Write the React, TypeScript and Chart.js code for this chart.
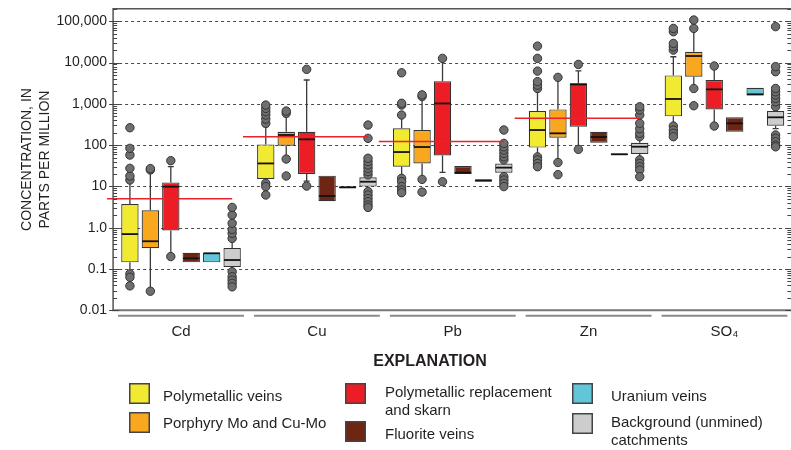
import React, { useEffect, useRef } from 'react';
import { Chart, registerables } from 'chart.js';
Chart.register(...registerables);

const categories = ['Cd', 'Cu', 'Pb', 'Zn', 'SO₄'];
const seriesNames = [
  'Polymetallic veins',
  'Porphyry Mo and Cu-Mo',
  'Polymetallic replacement\nand skarn',
  'Fluorite veins',
  'Uranium veins',
  'Background (unmined)\ncatchments',
];
const seriesColors = ['#F1EA30', '#F8A71E', '#EC1D25', '#6E2513', '#62C6D8', '#CDCDCD'];
const yTickLabels = ['0.01', '0.1', '1.0', '10', '100', '1,000', '10,000', '100,000'];
const yAxisTitle = ['CONCENTRATION, IN', 'PARTS PER MILLION'];
const referenceLevels = [5, 160, 123, 445, null];

// [lower whisker, Q1, median, Q3, upper whisker] per category
const polymetallicVeins = [
  [0.085, 0.145, 0.7, 3.75, 13],
  [13, 15.1, 36, 104, 280],
  [18, 30, 68, 255, 520],
  [55, 87, 232, 670, 2150],
  [300, 497, 1310, 4880, 13800],
];
const porphyry = [
  [0.031, 0.317, 0.47, 2.64, 24],
  [50, 97, 176, 211, 490],
  [16.5, 36, 90, 232, 1450],
  [40, 151, 193, 733, 4100],
  [2450, 4540, 14400, 18300, 62000],
];
const replacement = [
  [0.22, 0.86, 9.86, 12.5, 30],
  [13.5, 20, 138, 211, 3770],
  [21.9, 56, 1020, 3540, 11500],
  [85, 280, 2950, 3130, 6300],
  [310, 733, 2240, 3770, 7700],
];
const fluorite = [
  [0.145, 0.145, 0.181, 0.248, 0.248],
  [4.4, 4.4, 5.85, 18.2, 18.2],
  [20, 20, 21.5, 31, 31],
  [114, 114, 157, 211, 211],
  [211, 211, 337, 471, 471],
];
const uranium = [
  [0.145, 0.145, 0.24, 0.248, 0.248],
  [9.0, 9.0, 9.5, 9.9, 9.9],
  [13, 13, 14, 14.8, 14.8],
  [57, 57, 60, 63, 63],
  [1600, 1600, 1700, 2450, 2450],
];
const background = [
  [0.098, 0.112, 0.165, 0.323, 0.52],
  [8.5, 9.9, 13, 16.6, 18],
  [19, 21.4, 28.5, 36, 42],
  [50, 61, 91.6, 114, 150],
  [250, 295, 471, 670, 800],
];

const polymetallicVeinsOutliers = [
  [14.3, 17.9, 27.4, 57.5, 83.6, 264, 0.076, 0.063, 0.039],
  [337, 427, 536, 645, 776, 933, 11.9, 9.9, 6.2],
  [535, 933, 1030, 5640, 15.7, 13, 9.9, 8.2, 7.05],
  [2350, 2830, 3450, 6200, 12600, 25000, 52, 44, 36, 30],
  [20000, 24000, 29000, 55700, 67000, 290, 232, 193, 160],
];
const porphyryOutliers = [
  [25, 27, 0.029],
  [590, 668, 46, 17.9],
  [1500, 1650, 14.8, 7.3],
  [4370, 38, 19.3],
  [67000, 107000, 2350, 900],
];
const replacementOutliers = [
  [42, 0.2],
  [6840, 10.2],
  [12600, 13],
  [9000, 79],
  [8230, 290],
];
const fluoriteOutliers = [[], [], [], [], []];
const uraniumOutliers = [[], [], [], [], []];
const backgroundOutliers = [
  [0.55, 0.73, 0.91, 1.28, 2.03, 3.1, 0.086, 0.065, 0.054, 0.045, 0.037],
  [19, 22.8, 27.5, 33, 40, 48, 146, 306, 7.5, 6.2, 5.1, 4.27, 3.55, 3.1],
  [44, 52, 63, 76, 91, 110, 232, 17.2, 14.3, 11.9, 9.9],
  [160, 193, 250, 337, 535, 710, 850, 44, 36, 30, 25, 17.2],
  [850, 1120, 1350, 1630, 1950, 2350, 6000, 7950, 74000, 176, 146, 121, 100, 91],
];

const seriesStats = [polymetallicVeins, porphyry, replacement, fluorite, uranium, background];
const seriesOutliers = [
  polymetallicVeinsOutliers,
  porphyryOutliers,
  replacementOutliers,
  fluoriteOutliers,
  uraniumOutliers,
  backgroundOutliers,
];

const FONT = '"Liberation Sans", Arial, sans-serif';
const TEXT = '#231f20';

const boxPlugin = {
  id: 'boxExtras',
  beforeDatasetsDraw(chart: any) {
    const { ctx, chartArea: a, scales } = chart;
    const y = scales.y;
    ctx.save();
    ctx.strokeStyle = '#4a4a4a';
    ctx.lineWidth = 1;
    ctx.setLineDash([3, 3]);
    for (let e = -1; e <= 5; e++) {
      const py = Math.round(y.getPixelForValue(Math.pow(10, e))) + 0.5;
      ctx.beginPath();
      ctx.moveTo(a.left, py);
      ctx.lineTo(a.right, py);
      ctx.stroke();
    }
    ctx.setLineDash([]);
    ctx.strokeStyle = '#3a3a3a';
    ctx.lineWidth = 1.3;
    seriesStats.forEach((stats, di) => {
      const meta = chart.getDatasetMeta(di);
      meta.data.forEach((bar: any, i: number) => {
        const [lo, q1, , q3, hi] = stats[i];
        const bx = bar.x;
        const segs: [number, number][] = [];
        if (hi > q3) segs.push([q3, hi]);
        if (lo < q1) segs.push([q1, lo]);
        segs.forEach(([from, to]) => {
          const p1 = y.getPixelForValue(from);
          const p2 = y.getPixelForValue(to);
          ctx.beginPath();
          ctx.moveTo(bx, p1);
          ctx.lineTo(bx, p2);
          ctx.moveTo(bx - 3, p2);
          ctx.lineTo(bx + 3, p2);
          ctx.stroke();
        });
      });
    });
    ctx.restore();
  },
  afterDatasetsDraw(chart: any) {
    const { ctx, scales } = chart;
    const x = scales.x;
    const y = scales.y;
    ctx.save();
    seriesStats.forEach((stats, di) => {
      const meta = chart.getDatasetMeta(di);
      meta.data.forEach((bar: any, i: number) => {
        const py = y.getPixelForValue(stats[i][2]);
        ctx.strokeStyle = '#111';
        ctx.lineWidth = 1.8;
        ctx.beginPath();
        ctx.moveTo(bar.x - bar.width / 2 + 0.5, py);
        ctx.lineTo(bar.x + bar.width / 2 - 0.5, py);
        ctx.stroke();
      });
    });
    seriesOutliers.forEach((outs, di) => {
      const meta = chart.getDatasetMeta(di);
      meta.data.forEach((bar: any, i: number) => {
        outs[i].forEach((v: number) => {
          const py = y.getPixelForValue(v);
          ctx.beginPath();
          ctx.arc(bar.x, py, 4.2, 0, Math.PI * 2);
          ctx.fillStyle = '#6f6f6f';
          ctx.fill();
          ctx.strokeStyle = '#333';
          ctx.lineWidth = 1;
          ctx.stroke();
        });
      });
    });
    const gw = x.width / categories.length;
    const bgMeta = chart.getDatasetMeta(seriesStats.length - 1);
    referenceLevels.forEach((lvl, i) => {
      if (lvl == null) return;
      const py = y.getPixelForValue(lvl);
      const x0 = x.getPixelForValue(i) - gw / 2 - 6;
      const x1 = bgMeta.data[i].x;
      ctx.strokeStyle = '#E8232B';
      ctx.lineWidth = 1.5;
      ctx.beginPath();
      ctx.moveTo(x0, py);
      ctx.lineTo(x1, py);
      ctx.stroke();
    });
    ctx.restore();
  },
  afterDraw(chart: any) {
    const { ctx, chartArea: a, scales } = chart;
    const x = scales.x;
    const y = scales.y;
    ctx.save();
    ctx.strokeStyle = '#555';
    ctx.lineWidth = 1.5;
    ctx.beginPath();
    ctx.moveTo(a.left, a.bottom);
    ctx.lineTo(a.left, a.top);
    ctx.lineTo(a.right, a.top);
    ctx.lineTo(a.right, a.bottom);
    ctx.stroke();
    ctx.strokeStyle = '#777';
    ctx.lineWidth = 2;
    ctx.beginPath();
    ctx.moveTo(a.left - 1, a.bottom);
    ctx.lineTo(a.right, a.bottom);
    ctx.stroke();
    ctx.strokeStyle = '#444';
    ctx.lineWidth = 1;
    for (let e = -2; e <= 5; e++) {
      for (let m = 1; m <= 9; m++) {
        const v = m * Math.pow(10, e);
        if (v > 2e5) break;
        const py = Math.round(y.getPixelForValue(v)) + 0.5;
        const major = m === 1;
        ctx.beginPath();
        ctx.moveTo(a.left - (major ? 4 : 0), py);
        ctx.lineTo(a.left + (major ? 6 : 4), py);
        ctx.moveTo(a.right - (major ? 7 : 5), py);
        ctx.lineTo(a.right, py);
        ctx.stroke();
      }
    }
    const gw = x.width / categories.length;
    ctx.strokeStyle = '#8a8a8a';
    ctx.lineWidth = 2;
    categories.forEach((_, i) => {
      const cx = x.getPixelForValue(i);
      ctx.beginPath();
      ctx.moveTo(cx - gw / 2 + 5, a.bottom + 5.5);
      ctx.lineTo(cx + gw / 2 - 5, a.bottom + 5.5);
      ctx.stroke();
    });
    ctx.fillStyle = TEXT;
    ctx.font = `bold 16px ${FONT}`;
    ctx.textAlign = 'center';
    ctx.textBaseline = 'middle';
    ctx.fillText('EXPLANATION', 430, 362);
    const swatches = [
      [129, 383], [129, 412], [345, 383], [345, 421], [572, 383], [572, 413],
    ];
    const textPos = [
      [163, 397], [163, 424], [385, 393], [385, 435], [611, 397], [611, 423],
    ];
    ctx.textAlign = 'left';
    ctx.font = `15px ${FONT}`;
    seriesNames.forEach((name, i) => {
      const [sx, sy] = swatches[i];
      ctx.fillStyle = seriesColors[i];
      ctx.fillRect(sx, sy, 21, 21);
      ctx.strokeStyle = '#444';
      ctx.lineWidth = 1.5;
      ctx.strokeRect(sx + 0.75, sy + 0.75, 19.5, 19.5);
      ctx.fillStyle = TEXT;
      const [tx, ty] = textPos[i];
      name.split('\n').forEach((ln, k) => {
        ctx.fillText(ln, tx, ty + k * 17.5);
      });
    });
    ctx.restore();
  },
};

export default function App() {
  const ref = useRef<HTMLCanvasElement>(null);
  useEffect(() => {
    if (!ref.current) return;
    const chart = new Chart(ref.current, {
      type: 'bar',
      data: {
        labels: categories,
        datasets: seriesStats.map((stats, di) => ({
          label: seriesNames[di],
          data: stats.map((s) => [s[1], s[3]]),
          backgroundColor: seriesColors[di],
          borderColor: '#333',
          borderWidth: 1.2,
          borderSkipped: false,
          categoryPercentage: 0.903,
          barPercentage: 0.85,
        })),
      },
      options: {
        responsive: false,
        devicePixelRatio: 1,
        animation: false,
        layout: { padding: { top: 8.8, right: 7.6, left: 0, bottom: 0 } },
        plugins: { legend: { display: false }, tooltip: { enabled: false } },
        scales: {
          x: {
            type: 'category',
            grid: { display: false, drawTicks: false },
            border: { display: false },
            ticks: { font: { family: FONT, size: 15 }, color: TEXT, padding: 13, maxRotation: 0 },
            afterFit(s: any) {
              s.height = 450 - 310.3;
              s.paddingLeft = 0;
              s.paddingRight = 0;
            },
          },
          y: {
            type: 'logarithmic',
            min: 0.01,
            max: 2e5,
            grid: { display: false, drawTicks: false },
            border: { display: false },
            ticks: {
              autoSkip: false,
              font: { family: FONT, size: 14 },
              color: TEXT,
              padding: 6,
              callback: (v: any) => {
                const l = Math.log10(Number(v));
                const r = Math.round(l);
                if (Math.abs(l - r) < 1e-6 && r >= -2 && r <= 5) return yTickLabels[r + 2];
                return '';
              },
            },
            title: {
              display: true,
              text: yAxisTitle,
              font: { family: FONT, size: 14, lineHeight: 1.3 },
              color: TEXT,
              padding: { top: 18, bottom: 0 },
            },
            afterFit(s: any) {
              s.width = 113.1;
              s.paddingTop = 0;
              s.paddingBottom = 0;
            },
          },
        },
      },
      plugins: [boxPlugin],
    } as any);
    return () => chart.destroy();
  }, []);
  return (
    <div
      style={{
        position: 'fixed',
        left: 0,
        top: 0,
        width: 791,
        height: 450,
        overflow: 'hidden',
        background: '#fff',
      }}
    >
      <canvas ref={ref} width={800} height={450} style={{ display: 'block', width: 800, height: 450 }} />
    </div>
  );
}
